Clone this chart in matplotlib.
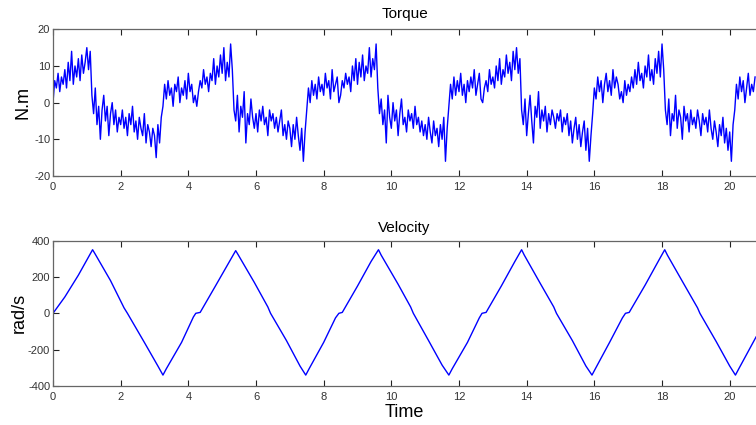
import numpy as np
import matplotlib
matplotlib.use("Agg")
import matplotlib.pyplot as plt

plt.rcParams['font.family'] = ['Liberation Sans', 'DejaVu Sans']
plt.rcParams['axes.unicode_minus'] = False

# torque, sampled every 0.05 s starting at t = 0 (one row per second)
dt = 0.05
torque = [
    0, 6, 4, 8, 3, 7, 5, 9, 4, 11, 6, 14, 5, 10, 7, 12, 6, 13, 8, 11,
    15, 9, 14, 2, -3, 4, -6, -1, -10, -2, 2, -5, -1, -9, -3, 0, -6, -2, -8, -4,
    -6, -2, -7, -4, -9, -3, -6, -1, -8, -5, -10, -4, -7, -9, -3, -11, -6, -8, -12, -7,
    -9, -15, -6, -11, -4, -1, 5, 1, 6, 2, 4, -1, 5, 3, 7, 0, 4, 2, 6, 1,
    8, 3, 5, 0, 2, -1, 3, 6, 4, 9, 5, 7, 3, 8, 6, 12, 5, 10, 7, 13,
    8, 15, 6, 11, 7, 16, 9, -2, -5, 2, -8, -1, -4, 3, -11, -3, -6, 1, -4, -7,
    -3, -8, -2, -5, -1, -6, -4, -9, -2, -5, -3, -7, -4, -8, -5, -2, -9, -6, -10, -5,
    -7, -12, -6, -10, -4, -9, -13, -7, -16, -8, -2, 4, 0, 6, 2, 5, 1, 7, 3, 5,
    2, 8, 4, 6, 1, 9, 3, 5, 7, 0, 2, 6, 4, 8, 5, 7, 3, 10, 6, 12,
    5, 11, 7, 13, 6, 10, 8, 15, 7, 12, 9, 16, 4, -3, 1, -6, -2, -11, 2, -4,
    -7, 0, -5, -2, -9, -3, 1, -6, -4, -8, -2, -5, -3, -7, -1, -6, -4, -8, -5, -9,
    -6, -10, -4, -8, -11, -5, -9, -7, -12, -6, -10, -4, -16, -7, -1, 5, 1, 7, 2, 6,
    3, 8, 2, 5, 0, 6, 3, 7, 4, 9, 2, 5, 8, 1, 0, 4, 6, 3, 9, 5,
    7, 4, 10, 6, 12, 5, 9, 7, 13, 8, 11, 6, 14, 9, 15, 8, 12, -2, -6, 1,
    -9, -3, 2, -5, -11, -1, -4, 3, -7, -2, -5, -1, -8, -3, -6, -2, -4, -7, -3, -5,
    -2, -8, -4, -6, -3, -9, -5, -11, -7, -4, -10, -6, -12, -8, -5, -13, -7, -16, -9, -3,
    4, 1, 7, 3, 6, 0, 5, 8, 3, 6, 2, 9, 4, 7, 5, 1, 3, 0, 6, 2,
    5, 3, 7, 4, 9, 5, 11, 6, 8, 4, 10, 7, 13, 6, 9, 5, 12, 8, 14, 7,
    16, 9, -2, -6, 1, -9, -3, -5, 2, -7, -2, -4, -10, -1, -5, -3, -8, -2, -6, -4,
    -7, -2, -5, -9, -3, -6, -4, -8, -2, -7, -10, -5, -8, -12, -6, -9, -4, -11, -7, -13,
    -8, -16, -6, -2, 5, 1, 7, 3, 6, 0, 4, 8, 2, 5, 3, 7,
]
t_torque = dt * np.arange(len(torque))

# velocity, corner points of the triangle wave
vel_t = [0, 0.35, 0.75, 1.05, 1.17, 1.25, 1.7, 2.1, 2.2, 2.7, 3.1, 3.25, 3.35, 3.8, 4.15, 4.22, 4.35, 4.8, 5.2, 5.4,
         5.48, 5.95, 6.35, 6.43, 6.9, 7.3, 7.47, 7.57, 8.0, 8.35, 8.45, 8.55, 9.0, 9.4, 9.62,
         9.7, 10.2, 10.57, 10.65, 11.1, 11.5, 11.7, 11.8, 12.25, 12.6, 12.68, 12.8, 13.25, 13.65, 13.85,
         13.93, 14.4, 14.8, 14.88, 15.35, 15.75, 15.93, 16.03, 16.45, 16.83, 16.92, 17.03, 17.5, 17.9, 18.08,
         18.16, 18.65, 19.05, 19.12, 19.6, 20.0, 20.17, 20.27, 20.78]
vel_v = [0, 90, 210, 310, 350, 325, 180, 30, 0, -160, -290, -340, -305, -160, -20, 0, 5, 150, 280, 345,
         320, 170, 35, 0, -150, -290, -340, -305, -160, -25, 0, 5, 150, 285, 350,
         320, 160, 35, 0, -150, -285, -340, -305, -160, -25, 0, 5, 150, 285, 350,
         320, 165, 35, 0, -150, -290, -340, -305, -160, -25, 0, 5, 155, 290, 350,
         320, 160, 30, 0, -155, -290, -340, -305, -130]

fig = plt.figure(figsize=(7.56, 4.25), dpi=100)
ax1 = fig.add_axes([0.0701, 0.586, 0.93, 0.345])
ax2 = fig.add_axes([0.0701, 0.0918, 0.93, 0.342])

ax1.plot(t_torque, torque, color='#0000ff', lw=1.0)
ax2.plot(vel_t, vel_v, color='#0000ff', lw=1.0)

ax1.set_ylim(-20, 20)
ax1.set_yticks([-20, -10, 0, 10, 20])
ax2.set_ylim(-400, 400)
ax2.set_yticks([-400, -200, 0, 200, 400])

for ax in (ax1, ax2):
    ax.set_xlim(0, 20.78)
    ax.set_xticks(range(0, 21, 2))
    ax.spines['right'].set_visible(False)
    for s in ('left', 'top', 'bottom'):
        ax.spines[s].set_color('#666666')
        ax.spines[s].set_linewidth(0.9)
    ax.tick_params(direction='in', top=True, right=False, length=4, width=0.8,
                   color='#222222', labelsize=8, labelcolor='#333333')
    ax.tick_params(axis='x', pad=4)
    ax.tick_params(axis='y', pad=2)

ax1.set_title('Torque', fontsize=11, pad=8)
ax1.set_ylabel('N.m', fontsize=13, labelpad=2)
ax2.set_title('Velocity', fontsize=11, pad=6)
ax2.set_ylabel('rad/s', fontsize=13, labelpad=0)
ax2.set_xlabel('Time', fontsize=13, labelpad=2)

fig.savefig('out.png', dpi=100)
